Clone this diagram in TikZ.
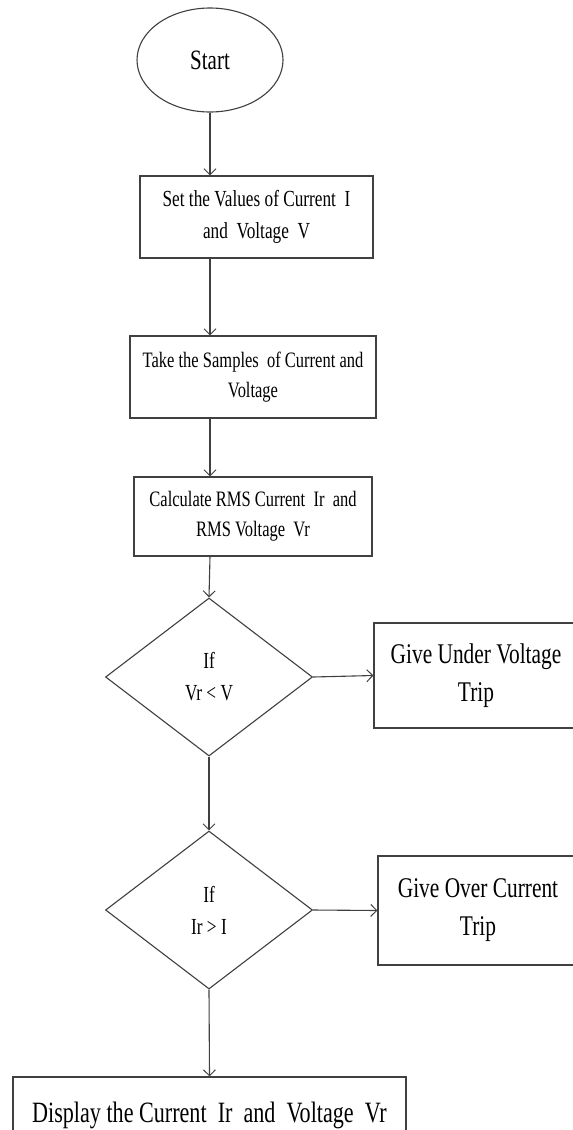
\documentclass[tikz,border=0pt]{standalone}
\usepackage{fontspec}
\newfontfamily\cf[FakeStretch=0.75]{Liberation Serif}
\usetikzlibrary{shapes.geometric,arrows.meta}
\begin{document}
\begin{tikzpicture}[x=1pt,y=-1pt,
  ln/.style={draw=black!75, line width=1.1pt},
  arr/.style={ln, -{Straight Barb[length=6pt,width=12pt,line width=1pt]}},
  boxs/.style={ln, rectangle, inner sep=0pt, align=center, text=black, font=\cf\fontsize{23}{32}\selectfont},
  smallbox/.style={boxs, font=\cf\fontsize{22}{30}\selectfont},
  bigbox/.style={boxs, font=\cf\fontsize{28.5}{38}\selectfont},
  dia/.style={ln, diamond, inner sep=0pt, align=center, minimum width=207pt, minimum height=158pt, font=\cf\fontsize{23}{32}\selectfont},
  ell/.style={ln, ellipse, inner sep=0pt, minimum width=146pt, minimum height=104pt, font=\cf\fontsize{28}{32}\selectfont}
]
\useasboundingbox[fill=white] (0,0) rectangle (573,1130);
\node[ell] (start) at (210,60) {Start};
\node[boxs, minimum width=233pt, minimum height=82pt] (b1) at (256.5,217) {Set the Values of Current\ \ I\\and\ \ Voltage\ \ V};
\node[smallbox, minimum width=246pt, minimum height=82pt] (b2) at (253,377) {Take the Samples\ \ of Current and\\Voltage};
\node[smallbox, minimum width=238pt, minimum height=79pt] (b3) at (253,516.5) {Calculate RMS Current\ \ Ir\ \ and\\RMS Voltage\ \ Vr};
\node[dia] (d1) at (209,677) {If\\Vr {<} V};
\node[bigbox, minimum width=204pt, minimum height=105pt] (r1) at (476,675.5) {Give Under Voltage\\Trip};
\node[dia] (d2) at (209,910) {If\\Ir {>} I};
\node[bigbox, minimum width=200pt, minimum height=109pt] (r2) at (478,910.5) {Give Over Current\\Trip};
\node[boxs, font=\cf\fontsize{29.5}{38}\selectfont, minimum width=393pt, minimum height=76pt] (b4) at (209.5,1115) {Display the Current\ \ Ir\ \ and\ \ Voltage\ \ Vr};
\draw[arr] (start.south) -- (start.south |- b1.north);
\draw[arr] (start.south |- b1.south) -- (start.south |- b2.north);
\draw[arr] (start.south |- b2.south) -- (start.south |- b3.north);
\draw[arr] (start.south |- b3.south) -- (d1.north);
\draw[arr] (d1.east) -- (r1.west);
\draw[arr] (d1.south) -- (d2.north);
\draw[arr] (d2.east) -- (r2.west);
\draw[arr] (d2.south) -- (b4.north);
\end{tikzpicture}
\end{document}
